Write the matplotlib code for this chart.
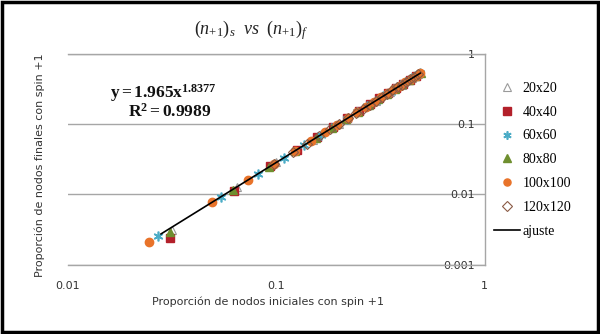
import matplotlib
matplotlib.use("Agg")
import matplotlib.pyplot as plt
from matplotlib.patches import Rectangle

plt.rcParams['mathtext.fontset'] = 'custom'
plt.rcParams['mathtext.rm'] = 'Liberation Serif'
plt.rcParams['mathtext.it'] = 'Liberation Serif:italic'
plt.rcParams['mathtext.bf'] = 'Liberation Serif:bold'

# datos
x_20 = [0.0315, 0.065, 0.1, 0.15, 0.2, 0.25, 0.3, 0.35, 0.4, 0.45, 0.48]
y_20 = [0.0031, 0.01294, 0.02855, 0.06016, 0.1021, 0.1538, 0.2150, 0.2856, 0.3649, 0.4530, 0.5099]

x_40 = [0.031, 0.0625, 0.09375, 0.125, 0.156, 0.1875, 0.21875, 0.25, 0.28125,
        0.3125, 0.34375, 0.375, 0.40625, 0.4375, 0.46875]
y_40 = [0.00242, 0.0113, 0.02537, 0.04303, 0.06463, 0.09066, 0.1203, 0.1538, 0.1910,
        0.2319, 0.2762, 0.3240, 0.3754, 0.4302, 0.4883]

x_60 = [0.0272, 0.0544, 0.0816, 0.1088, 0.136, 0.1632, 0.1904, 0.2176, 0.2448,
        0.272, 0.2992, 0.3264, 0.3536, 0.3808, 0.408, 0.4352, 0.4624, 0.4896]
y_60 = [0.00255, 0.009328, 0.01965, 0.03334, 0.05023, 0.07023, 0.09326, 0.1192, 0.1480,
        0.1796, 0.2140, 0.2511, 0.2909, 0.3333, 0.3784, 0.4260, 0.4763, 0.5289]

x_80 = [0.0309, 0.0618, 0.0927, 0.1236, 0.1545, 0.1854, 0.2163, 0.2472,
        0.2781, 0.309, 0.3399, 0.3708, 0.4017, 0.4326, 0.4635, 0.4944]
y_80 = [0.0029, 0.0115, 0.02485, 0.04215, 0.06350, 0.08880, 0.1179, 0.1506,
        0.1871, 0.2272, 0.2706, 0.3175, 0.3678, 0.4214, 0.4785, 0.5385]

x_100 = [0.0245, 0.049, 0.0735, 0.098, 0.1225, 0.147, 0.1715, 0.196, 0.2205, 0.245,
         0.2695, 0.294, 0.3185, 0.343, 0.3675, 0.392, 0.4165, 0.441, 0.4655, 0.49]
y_100 = [0.00212, 0.007698, 0.01622, 0.02751, 0.04146, 0.05796, 0.07697, 0.09838, 0.1221, 0.1482,
         0.1766, 0.2072, 0.2400, 0.2750, 0.3123, 0.3516, 0.3931, 0.4367, 0.4821, 0.5297]

x_120 = [0.098, 0.12, 0.14, 0.16, 0.18, 0.2, 0.22, 0.24, 0.26, 0.28,
         0.3, 0.32, 0.34, 0.36, 0.38, 0.4, 0.42, 0.44, 0.46, 0.48]
y_120 = [0.02751, 0.03993, 0.05298, 0.06771, 0.08410, 0.1021, 0.1216, 0.1427, 0.1654, 0.1895,
         0.2150, 0.2420, 0.2707, 0.3007, 0.3320, 0.3649, 0.3990, 0.4349, 0.4718, 0.5099]

# extremos de la recta de ajuste
x_fit = [0.028, 0.49]
y_fit = [0.002753, 0.5297]

fig = plt.figure(figsize=(6, 3.34), dpi=100)
ax = fig.add_axes([0.113, 0.207, 0.695, 0.632])

ms = 6
ax.plot(x_20, y_20, '^', ls='none', ms=ms, mfc='white', mec='#9a9a9a', mew=0.8, label='20x20')
ax.plot(x_40, y_40, 's', ls='none', ms=ms, mfc='#b3202a', mec='#b3202a', label='40x40')
ax.plot(x_60, y_60, marker=(6, 2, 0), ls='none', ms=ms + 1, mec='#4bacc6', mew=1.2, label='60x60')
ax.plot(x_80, y_80, '^', ls='none', ms=ms, mfc='#6f8f2f', mec='#6f8f2f', label='80x80')
ax.plot(x_100, y_100, 'o', ls='none', ms=ms, mfc='#e8732a', mec='#e8732a', label='100x100')
ax.plot(x_120, y_120, 'D', ls='none', ms=ms - 0.5, mfc='none', mec='#8a5a44', mew=0.8, label='120x120')
ax.plot(x_fit, y_fit, '-', color='black', lw=1.2, label='ajuste')

ax.set_xscale('log')
ax.set_yscale('log')
ax.set_xlim(0.01, 1)
ax.set_ylim(0.001, 1)
ax.set_xticks([0.01, 0.1, 1])
ax.set_xticklabels(['0.01', '0.1', '1'])
ax.set_yticks([0.001, 0.01, 0.1, 1])
ax.set_yticklabels(['0.001', '0.01', '0.1', '1'])
ax.minorticks_off()

ax.yaxis.grid(True, color='#a6a6a6', lw=1)
ax.set_axisbelow(True)
ax.spines['left'].set_visible(False)
for s in ['top', 'right', 'bottom']:
    ax.spines[s].set_color('#a6a6a6')
    ax.spines[s].set_linewidth(1)

ax.tick_params(axis='y', left=False, right=False, labelleft=False, labelright=True,
               pad=-11, labelsize=8, labelcolor='#333333')
for lab in ax.get_yticklabels():
    lab.set_horizontalalignment('right')
ax.tick_params(axis='x', bottom=False, labelsize=8, labelcolor='#333333', pad=8)

fig.text(0.447, 0.096, 'Proporción de nodos iniciales con spin +1', ha='center', va='center',
         fontsize=8, color='#333333')
fig.text(0.066, 0.505, 'Proporción de nodos finales con spin +1', ha='center', va='center',
         rotation=90, fontsize=8, color='#333333')

fig.text(0.419, 0.91, r'$(n_{+1})_s\ \ vs\ \ (n_{+1})_f$', ha='center', va='center',
         fontsize=13, color='#222222')

fig.text(0.273, 0.722, r'$\mathbf{y = 1.965x^{1.8377}}$', ha='center', va='center',
         fontsize=12.5, color='#111111')
fig.text(0.282, 0.665, r'$\mathbf{R^2 = 0.9989}$', ha='center', va='center',
         fontsize=12.5, color='#111111')

leg = ax.legend(loc='upper left', bbox_to_anchor=(0.823, 0.755), bbox_transform=fig.transFigure,
                frameon=False, handlelength=1.9, handletextpad=0.15, labelspacing=0.78,
                borderaxespad=0, borderpad=0, markerscale=0.85,
                prop={'family': 'Liberation Serif', 'size': 10})

fig.add_artist(Rectangle((0.004, 0.006), 0.992, 0.988, transform=fig.transFigure,
                         fill=False, edgecolor='black', lw=2.5))

fig.savefig('out.png', dpi=100)
